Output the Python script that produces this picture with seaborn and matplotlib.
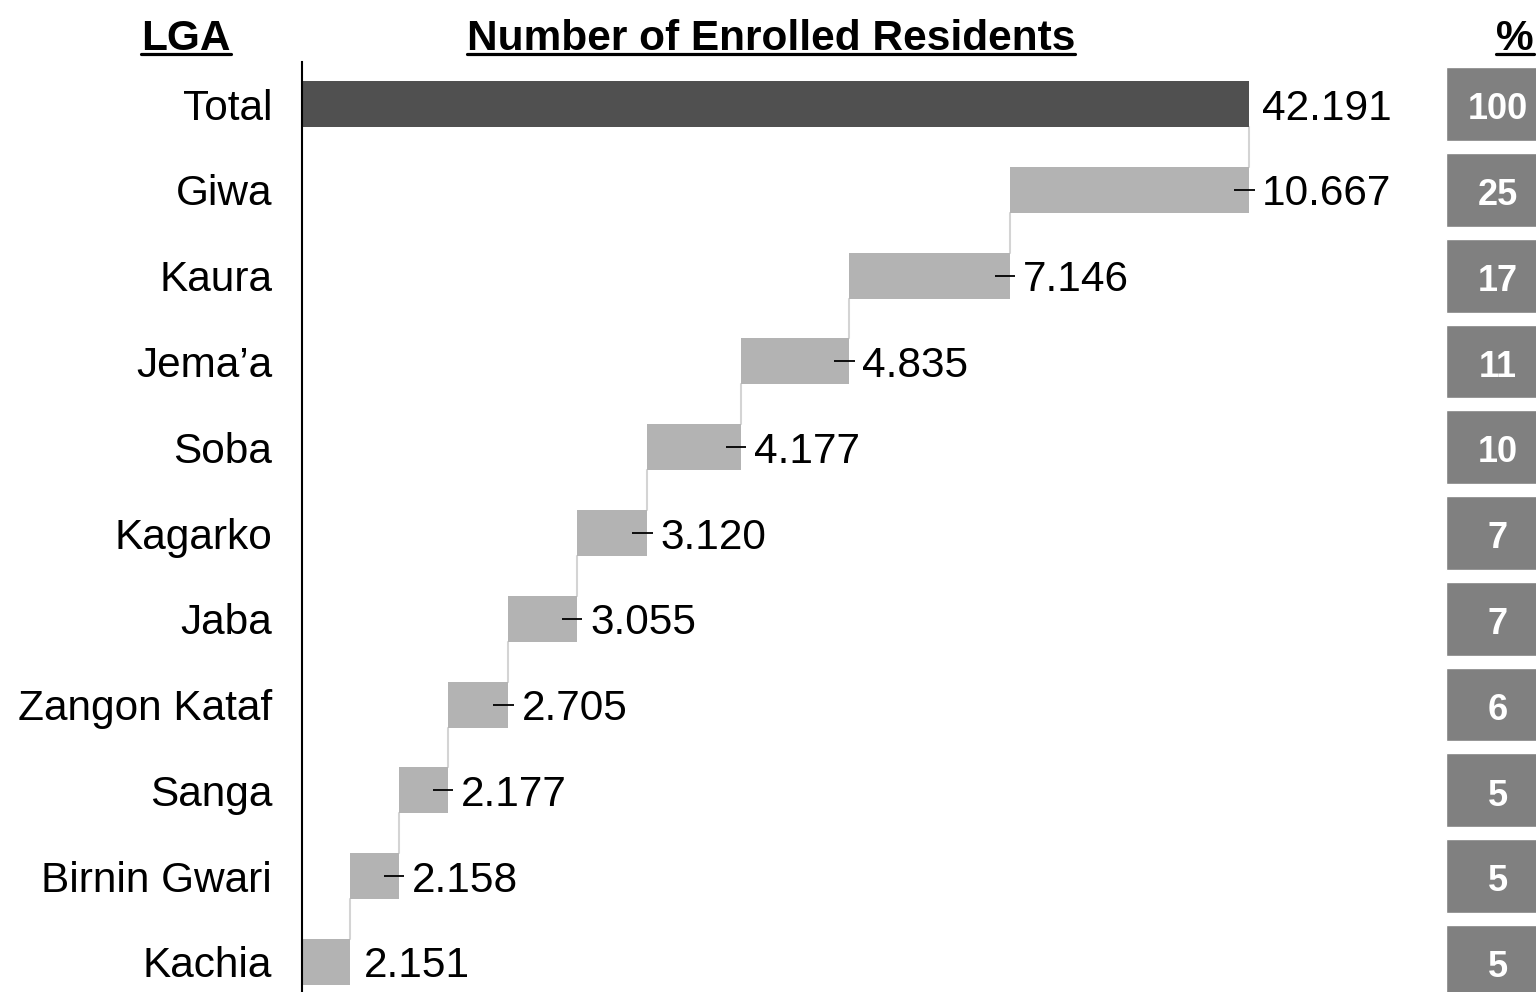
import matplotlib
matplotlib.use("Agg")
import matplotlib.pyplot as plt
from matplotlib.lines import Line2D
import seaborn as sns
import pandas as pd

# Enrolled residents per LGA (first entry is the overall total)
lgas = ["Total", "Giwa", "Kaura", "Jema\u2019a", "Soba", "Kagarko", "Jaba",
        "Zangon Kataf", "Sanga", "Birnin Gwari", "Kachia"]
residents = [42191, 10667, 7146, 4835, 4177, 3120, 3055, 2705, 2177, 2158, 2151]
shares = [100, 25, 17, 11, 10, 7, 7, 6, 5, 5, 5]

sns.set_theme(style="white")
plt.rcParams["font.family"] = ["Liberation Sans", "DejaVu Sans"]

W, H, DPI = 1536, 992, 100
fig = plt.figure(figsize=(W / DPI, H / DPI), dpi=DPI)

# waterfall geometry: total bar from zero, components stepping down from the total
total = residents[0]
ends, starts = [total], [0]
run = total
for v in residents[1:]:
    ends.append(run)
    starts.append(run - v)
    run -= v

df = pd.DataFrame({"lga": lgas, "end": ends, "start": starts, "value": residents})

ax_left, ax_right = 302, 1436
ax = fig.add_axes([ax_left / W, 0, (ax_right - ax_left) / W, 1 - 62 / H])
palette = ["#505050"] + ["#b3b3b3"] * (len(lgas) - 1)
sns.barplot(data=df, x="end", y="lga", hue="lga", palette=palette, legend=False,
            width=0.535, ax=ax, saturation=1, orient="h")

for p in ax.patches:
    i = int(round(p.get_y() + p.get_height() / 2))
    p.set_x(df["start"][i])
    p.set_width(df["value"][i])
    p.set_edgecolor("none")
    p.set_zorder(2)

px_per_unit = (1249 - ax_left) / total
ax.set_xlim(0, (ax_right - ax_left) / px_per_unit)
ax.set_ylim(10.35, -0.49)

half = 0.535 / 2
n = len(lgas)
for i in range(n):
    e = df["end"][i]
    s = df["start"][i]
    # connector to next bar
    if i < n - 1:
        cx = s if i > 0 else e
        ax.plot([cx, cx], [i + half, i + 1 - half], color="#d4d4d4", lw=1.5, zorder=1)
    # small end tick on component bars
    if 0 < i < n - 1:
        ax.plot([e - 670, e + 250], [i, i], color="black", lw=1.3, zorder=10,
                solid_capstyle="butt")
    label = f"{df['value'][i]:,}".replace(",", ".")
    ax.annotate(label, (e, i), xytext=(9.5, 0), textcoords="offset points",
                ha="left", va="center_baseline", fontsize=30.5, color="black",
                zorder=11)

ax.set_xlabel("")
ax.set_ylabel("")
ax.set_xticks([])
ax.tick_params(axis="y", length=0, pad=21.5, labelsize=30.5, labelcolor="black")
for side in ["top", "right", "bottom"]:
    ax.spines[side].set_visible(False)
ax.spines["left"].set_color("black")
ax.spines["left"].set_linewidth(1.5)

# share column
ax2 = fig.add_axes([1446 / W, 0, 104 / W, 1 - 62 / H], sharey=ax)
ax2.barh(range(n), [1] * n, height=0.86, left=0, color="#808080")
ax2.set_xlim(0, 1)
for i, s in enumerate(shares):
    ax2.text(0.5, i + 0.02, str(s), ha="center", va="center_baseline", fontsize=26,
             fontweight="bold", color="white")
ax2.axis("off")

# underlined column headers
headers = [("LGA", 186), ("Number of Enrolled Residents", 771), ("%", 1515)]
base_y = 1 - 50 / H
htexts = []
for txt, cx in headers:
    t = fig.text(cx / W, base_y, txt, ha="center", va="baseline", fontsize=30.5,
                 fontweight="bold", color="black")
    htexts.append(t)
fig.canvas.draw()
r = fig.canvas.get_renderer()
for t in htexts:
    bb = t.get_window_extent(r)
    uy = base_y - 4 / H
    fig.add_artist(Line2D([bb.x0 / W, bb.x1 / W], [uy, uy], transform=fig.transFigure,
                          color="black", lw=2.3))

fig.savefig("out.png", dpi=DPI)
